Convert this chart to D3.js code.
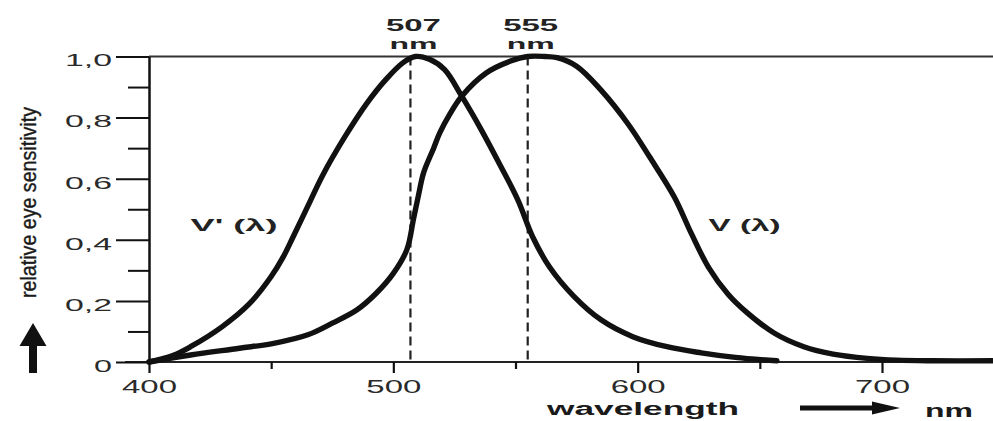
<!DOCTYPE html>
<html><head><meta charset="utf-8">
<script src="https://cdn.jsdelivr.net/npm/d3@7"></script>
<style>body{margin:0;background:#fff}</style>
</head><body><svg id="c" width="993" height="421"></svg>
<script>
// ---- data ----
const scotopicWavelengths = [400,410,417,430,441,450,455,459,465,471,480,489,497,504,509,515,521,528,536,544,551,557,564,574,585,598,612,626,640,657];
const scotopicValues      = [0,0.022,0.05,0.116,0.19,0.28,0.345,0.41,0.51,0.61,0.735,0.845,0.925,0.98,1.0,0.99,0.957,0.87,0.76,0.64,0.53,0.41,0.31,0.214,0.138,0.083,0.05,0.03,0.015,0.004];
const photopicWavelengths = [400,417,437,451,465,475,485,493,500,505.5,508.3,510.4,512.4,516.5,519,523,528,538,548,555,562,567,575,585,596,605,615,622,629,637,645,656,668,680,694,706,720,746];
const photopicValues      = [0,0.023,0.045,0.061,0.089,0.127,0.17,0.225,0.29,0.367,0.47,0.55,0.62,0.70,0.75,0.81,0.87,0.946,0.985,1.0,1.0,0.996,0.968,0.89,0.78,0.67,0.54,0.42,0.31,0.222,0.16,0.094,0.05,0.026,0.012,0.006,0.004,0.004];
const xMajorTicks = [400,500,600,700];
const xMinorTicks = [450,550,650];
const yMajorTicks = [0,0.2,0.4,0.6,0.8,1.0];
const yMinorTicks = [0.1,0.3,0.5,0.7,0.9];
const yTickLabels = ["0","0,2","0,4","0,6","0,8","1,0"];
const peakWavelengths = [507,555];
const peakLabels = ["507","555"];
const peakUnit = "nm";
const curveNames = ["V' (λ)","V (λ)"];
const yTitle = "relative eye sensitivity";
const xTitle = "wavelength";
const xUnit = "nm";

// ---- layout ----
const W = 993, H = 421;
const FONT = "'Liberation Sans', Arial, Helvetica, sans-serif";
const svg = d3.select("#c");
svg.append("rect").attr("width",W).attr("height",H).attr("fill","#fff");

const x = d3.scaleLinear().domain([400,700]).range([149,882]);
const y = d3.scaleLinear().domain([0,1]).range([362,56.5]);
const ink = "#111";

// frame: top line and bottom baseline
svg.append("line").attr("x1",x(400)).attr("x2",W).attr("y1",y(1)).attr("y2",y(1))
  .attr("stroke","#333").attr("stroke-width",2);
svg.append("line").attr("x1",x(400)-24).attr("x2",W).attr("y1",y(0)).attr("y2",y(0))
  .attr("stroke","#222").attr("stroke-width",2.2);

// y axis
const gy = svg.append("g").attr("transform",`translate(${x(400)},0)`);
gy.call(d3.axisLeft(y).tickValues(yMajorTicks).tickSize(33).tickSizeOuter(0).tickPadding(4)
  .tickFormat((d,i)=>yTickLabels[i]));
gy.select(".domain").attr("stroke",ink).attr("stroke-width",2.5);
gy.selectAll(".tick line").attr("stroke",ink).attr("stroke-width",2);
gy.selectAll(".tick text").attr("font-family",FONT).attr("font-size",17).attr("fill","#2a2a2a")
  .attr("dy","0.55em")
  .attr("textLength",d=>yTickLabels[yMajorTicks.indexOf(d)].length===1?18:47)
  .attr("lengthAdjust","spacingAndGlyphs");
const gym = svg.append("g").attr("transform",`translate(${x(400)},0)`);
gym.call(d3.axisLeft(y).tickValues(yMinorTicks).tickSize(21).tickSizeOuter(0).tickFormat(""));
gym.select(".domain").remove();
gym.selectAll(".tick line").attr("stroke",ink).attr("stroke-width",2);

// x axis
const gx = svg.append("g").attr("transform",`translate(0,${y(0)})`);
gx.call(d3.axisBottom(x).tickValues(xMajorTicks).tickSize(11).tickSizeOuter(0));
gx.select(".domain").remove();
gx.selectAll(".tick line").attr("stroke",ink).attr("stroke-width",2.2);
gx.selectAll(".tick text").attr("font-family",FONT).attr("font-size",18).attr("fill","#2a2a2a")
  .attr("y",31).attr("dy",0).attr("textLength",55).attr("lengthAdjust","spacingAndGlyphs");
const gxm = svg.append("g").attr("transform",`translate(0,${y(0)})`);
gxm.call(d3.axisBottom(x).tickValues(xMinorTicks).tickSize(7).tickSizeOuter(0).tickFormat(""));
gxm.select(".domain").remove();
gxm.selectAll(".tick line").attr("stroke",ink).attr("stroke-width",2.2);

// dashed peak lines
svg.append("g").selectAll("line").data(peakWavelengths).join("line")
  .attr("x1",d=>x(d)).attr("x2",d=>x(d)).attr("y1",y(1)).attr("y2",y(0))
  .attr("stroke","#222").attr("stroke-width",2.2).attr("stroke-dasharray","9,5");

// curves
const line = d3.line().x(d=>x(d[0])).y(d=>y(d[1])).curve(d3.curveCatmullRom.alpha(0.5));
const scot = scotopicWavelengths.map((w,i)=>[w,scotopicValues[i]]);
const phot = photopicWavelengths.map((w,i)=>[w,photopicValues[i]]);
[scot,phot].forEach(s=>{
  svg.append("path").attr("d",line(s)).attr("fill","none").attr("stroke",ink)
    .attr("stroke-width",5.4).attr("stroke-linejoin","round").attr("stroke-linecap","round");
});

// peak labels: value above unit
peakWavelengths.forEach((w,i)=>{
  svg.append("text").attr("x",x(w)+3).attr("y",30.5).attr("text-anchor","middle")
    .attr("font-family",FONT).attr("font-weight","bold").attr("font-size",17).attr("fill","#222")
    .attr("textLength",55).attr("lengthAdjust","spacingAndGlyphs").text(peakLabels[i]);
  svg.append("text").attr("x",x(w)+3).attr("y",48.5).attr("text-anchor","middle")
    .attr("font-family",FONT).attr("font-weight","bold").attr("font-size",15.5).attr("fill","#222")
    .attr("textLength",48).attr("lengthAdjust","spacingAndGlyphs").text(peakUnit);
});

// curve labels
const curveLabelPos = [[417,0.43,87],[629,0.43,72]];
curveNames.forEach((n,i)=>{
  const p = curveLabelPos[i];
  svg.append("text").attr("x",x(p[0])).attr("y",y(p[1])).attr("font-family",FONT)
    .attr("font-weight","bold").attr("font-size",17).attr("fill","#222")
    .attr("textLength",p[2]).attr("lengthAdjust","spacingAndGlyphs").text(n);
});

// y title + arrow
svg.append("text").attr("transform","translate(36,202.5) rotate(-90)").attr("text-anchor","middle")
  .attr("font-family",FONT).attr("font-size",22).attr("fill","#1a1a1a")
  .attr("stroke","#1a1a1a").attr("stroke-width",0.4)
  .attr("textLength",191).attr("lengthAdjust","spacingAndGlyphs").text(yTitle);
const ax = 33;
svg.append("path").attr("d",`M${ax},323 L${ax+13.5},346 L${ax+4},346 L${ax+4},373 L${ax-4},373 L${ax-4},346 L${ax-13.5},346 Z`)
  .attr("fill","#111");

// x title + arrow + unit
svg.append("text").attr("x",547).attr("y",415).attr("font-family",FONT).attr("font-weight","bold")
  .attr("font-size",18).attr("fill","#1a1a1a").attr("textLength",192).attr("lengthAdjust","spacingAndGlyphs").text(xTitle);
svg.append("path").attr("d","M800,405.5 L872,405.5 L872,401.5 L900,408 L872,414.5 L872,410.5 L800,410.5 Z").attr("fill","#111");
svg.append("text").attr("x",925).attr("y",417).attr("font-family",FONT).attr("font-weight","bold")
  .attr("font-size",18).attr("fill","#1a1a1a").attr("textLength",48).attr("lengthAdjust","spacingAndGlyphs").text(xUnit);
</script></body></html>
